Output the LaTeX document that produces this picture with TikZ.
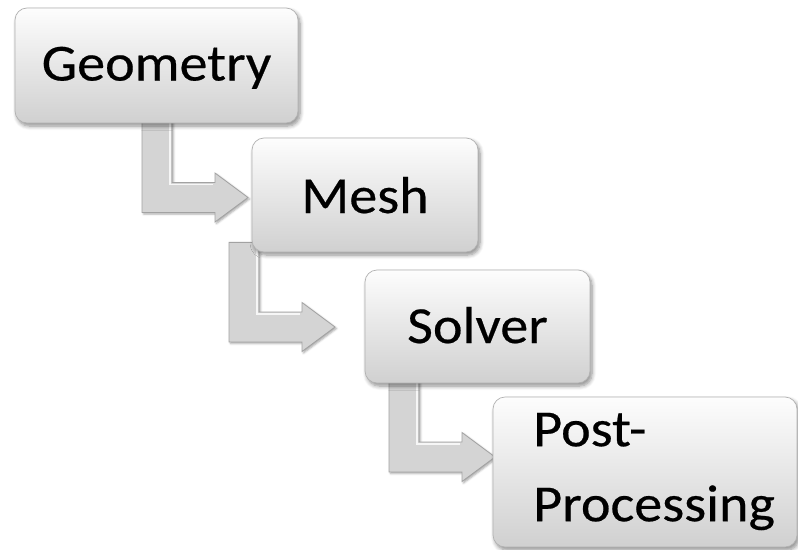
\documentclass[tikz,border=0pt]{standalone}
\usepackage{fontspec}
\setmainfont{Carlito}[FakeStretch=1.08, FakeBold=0.4]
\usetikzlibrary{calc,shadows.blur}
\pgfdeclarelayer{background}
\pgfsetlayers{background,main}

\definecolor{boxtop}{HTML}{FDFDFD}
\definecolor{boxbottom}{HTML}{D0D0D0}
\definecolor{boxline}{HTML}{B2B2B2}
\definecolor{arrowfill}{HTML}{D4D4D4}
\definecolor{arrowline}{HTML}{A2A2A2}

\tikzset{
  stage/.style={rectangle, rounded corners=12pt, draw=boxline, line width=0.7pt,
    top color=boxtop, bottom color=boxbottom, inner sep=0pt,
    blur shadow={shadow xshift=2pt, shadow yshift=-3pt, shadow blur steps=6,
      shadow blur radius=4pt, shadow opacity=45}},
  stagetext/.style={font=\fontsize{52}{75}\selectfont, text=black, inner sep=0pt},
  flow/.style={fill=arrowfill, draw=arrowline, line width=0.8pt, line join=miter,
    blur shadow={shadow xshift=1.5pt, shadow yshift=-1.5pt, shadow blur steps=4,
      shadow blur radius=2pt, shadow opacity=35}},
  flowhi/.style={draw=white, line width=1.2pt, opacity=0.8}
}

% bent block arrow: from under node #1 down, then right to the tip #2
\newcommand\flowarrow[2]{%
  \coordinate (#2-sl) at ($(#2)+(-106,0)$);
  \coordinate (#2-sr) at ($(#2)+(-76,0)$);
  \coordinate (#2-top) at ($(#1.south)+(0,-10)$);
  \draw[flow] (#2-sl |- #2-top) -- ($(#2)+(-106,15)$) -- ($(#2)+(-33,15)$)
    -- ($(#2)+(-33,24.5)$) -- (#2) -- ($(#2)+(-33,-24.5)$) -- ($(#2)+(-33,-15)$)
    -- ($(#2)+(-76,-15)$) -- (#2-sr |- #2-top) -- cycle;
  \draw[flowhi] ($(#2-sr |- #2-top)+(-2,0)$) -- ($(#2)+(-78,-13)$) -- ($(#2)+(-35,-13)$);
}

\begin{document}
\begin{tikzpicture}[x=1pt, y=-1pt]
  \useasboundingbox (0,0) rectangle (798,549);

  % stages
  \node[stage, minimum width=283pt, minimum height=115pt] (geo) at (156.5,65.5) {};
  \node[stage, minimum width=226pt, minimum height=114pt] (mesh) at (365,195) {};
  \node[stage, minimum width=225pt, minimum height=113pt] (solver) at (477.5,326.5) {};
  \node[stage, minimum width=304pt, minimum height=150pt] (post) at (645,472) {};

  \node[stagetext, anchor=base] (geo-t) at ($(geo.center)+(0,15)$) {Geometry};
  \node[stagetext, anchor=base] (mesh-t) at ($(mesh.center)+(0,18)$) {Mesh};
  \node[stagetext, anchor=base] (solver-t) at ($(solver.center)+(0,16.5)$) {Solver};
  \node[stagetext, align=left, anchor=west] (post-t) at (533,471.5) {Post-\\Processing};

  % arrow tips
  \coordinate (in-mesh) at (248,197.5);
  \coordinate (in-solver) at (335,327);
  \coordinate (in-post) at (495,457);

  \begin{pgfonlayer}{background}
    \flowarrow{geo}{in-mesh}
    \flowarrow{mesh}{in-solver}
    \flowarrow{solver}{in-post}
  \end{pgfonlayer}
\end{tikzpicture}
\end{document}
